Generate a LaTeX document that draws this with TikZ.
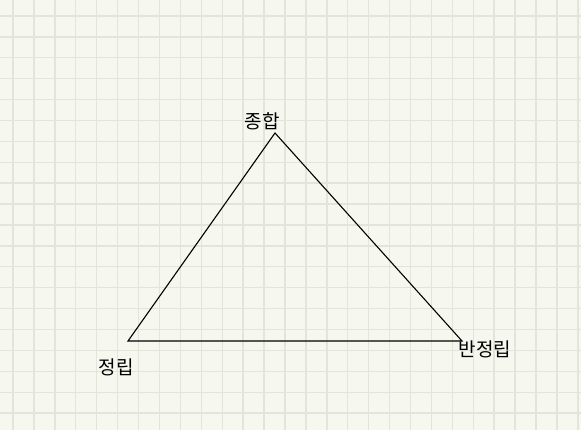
\documentclass[tikz,border=0pt]{standalone}
\usepackage{fontspec}
\newfontfamily\krfont{Noto Sans CJK KR}
\definecolor{paper}{HTML}{F6F7EE}
\definecolor{gridc}{HTML}{E3E4DA}
\tikzset{
  lbl/.style={font=\krfont\fontsize{19}{19}\selectfont, inner sep=0pt, text=black},
  edge/.style={draw=black, line width=1.1pt},
}
\begin{document}
\begin{tikzpicture}[x=1pt,y=-1pt]
\fill[paper] (0,0) rectangle (581,430);
\useasboundingbox (0,0) rectangle (581,430);
\foreach \i in {0,...,27} {
  \draw[gridc, line width=1.4pt] ({13+20.92*\i},0) -- ({13+20.92*\i},430);
}
\foreach \j in {0,...,19} {
  \draw[gridc, line width=1.4pt] (0,{16+20.9*\j}) -- (581,{16+20.9*\j});
}
\coordinate (L) at (128,341);
\coordinate (T) at (275,133);
\coordinate (R) at (462,341);
\draw[edge] (L) -- (T) -- (R) -- cycle;
\node[lbl] (syn) at (262,121) {종합};
\node[lbl] (thesis) at (116,367) {정립};
\node[lbl] (anti) at (485,349) {반정립};
\end{tikzpicture}
\end{document}
